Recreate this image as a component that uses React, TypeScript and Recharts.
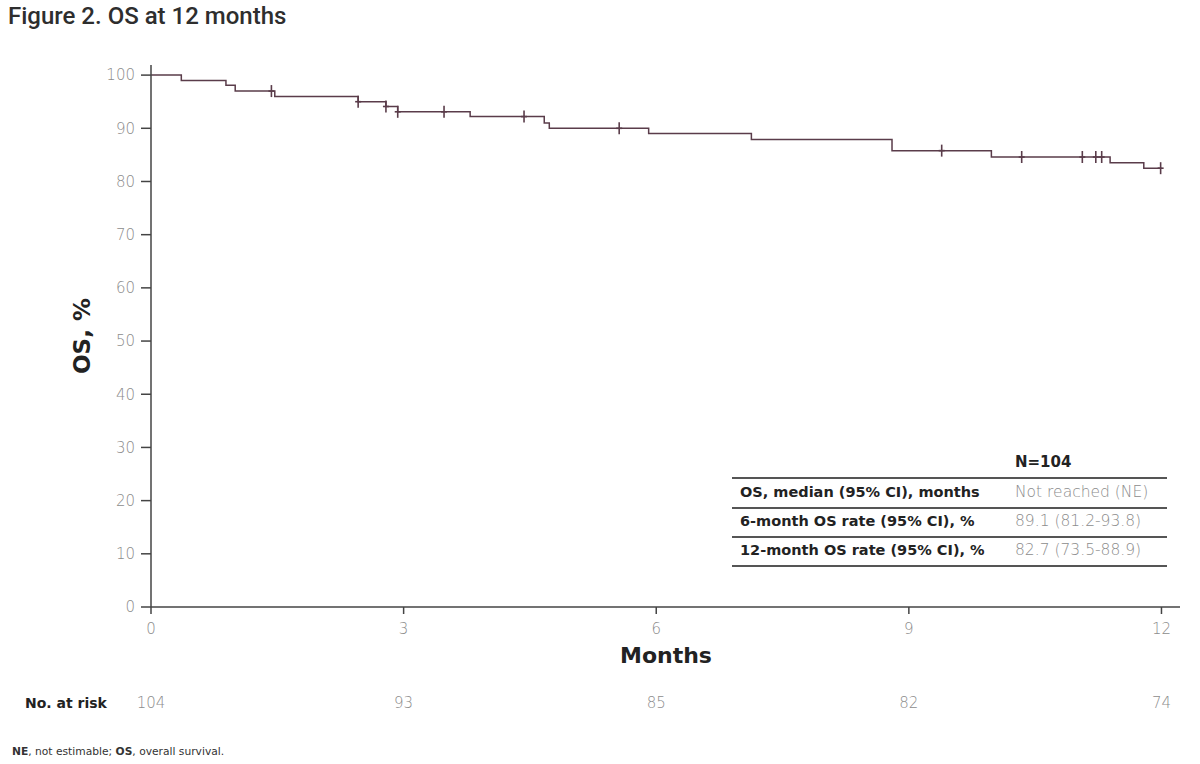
import React from 'react';
import { ComposedChart, Line, Scatter, XAxis, YAxis } from 'recharts';

// Kaplan-Meier steps (months, OS %)
const stepMonths = [0, 0.36, 0.89, 1.0, 1.47, 2.46, 2.79, 2.93, 3.79, 4.67, 4.73, 5.91, 7.13, 8.8, 9.98, 11.39, 11.79, 12.0];
const stepOs = [100, 99.0, 98.1, 97.0, 96.0, 95.0, 94.1, 93.1, 92.2, 91.0, 90.0, 89.0, 87.9, 85.8, 84.6, 83.5, 82.5, 82.5];

// censored patients
const censorMonths = [1.43, 2.46, 2.79, 2.93, 3.48, 4.43, 5.56, 9.39, 10.34, 11.06, 11.22, 11.29, 11.99];
const censorOs = [97.0, 95.0, 94.1, 93.1, 93.1, 92.2, 90.0, 85.8, 84.6, 84.6, 84.6, 84.6, 82.5];

const monthTicks = [0, 3, 6, 9, 12];
const osTicks = [0, 10, 20, 30, 40, 50, 60, 70, 80, 90, 100];
const atRisk = [104, 93, 85, 82, 74];

const tableRows = ['OS, median (95% CI), months', '6-month OS rate (95% CI), %', '12-month OS rate (95% CI), %'];
const tableValues = ['Not reached (NE)', '89.1 (81.2-93.8)', '82.7 (73.5-88.9)'];

const curve = stepMonths.map((t, i) => ({ t, os: stepOs[i] }));
const censored = censorMonths.map((t, i) => ({ t, os: censorOs[i] }));

const FONT = '"DejaVu Sans", Lato, sans-serif';
const LINE = '#5a3c4a';
const GREY = '#8c8c8c';

const CensorMark = (props: any) => {
    const { cx, cy } = props;
    return (
        <g>
            <line x1={cx} x2={cx} y1={cy - 6} y2={cy + 6} stroke={LINE} strokeWidth={1.6} />
            <line x1={cx - 3} x2={cx + 3} y1={cy} y2={cy} stroke={LINE} strokeWidth={1.6} />
        </g>
    );
};

const rule = (top: number, w = 2) => (
    <div style={{ position: 'absolute', left: 732, top, width: 435, height: w, background: '#555' }} />
);

export default function App() {
    return (
        <div style={{ position: 'absolute', left: 0, top: 0, width: 1200, height: 764, background: '#fff', overflow: 'hidden', fontFamily: FONT }}>
            <div style={{ position: 'absolute', left: 8, top: 2, fontFamily: 'Roboto, sans-serif', fontSize: 24, fontWeight: 500, color: '#2e2e2e' }}>
                Figure 2. OS at 12 months
            </div>

            <ComposedChart
                width={1200}
                height={764}
                data={curve}
                margin={{ top: 65, right: 20, bottom: 67, left: 0 }}
                style={{ position: 'absolute', left: 0, top: 0 }}
            >
                <XAxis
                    dataKey="t"
                    type="number"
                    domain={[0, 12.22]}
                    ticks={monthTicks}
                    allowDataOverflow
                    height={30}
                    stroke="#444"
                    strokeWidth={1.5}
                    tickSize={7}
                    tickMargin={9}
                    tick={{ fill: GREY, fontSize: 15, fontFamily: FONT, fontWeight: 300 }}
                />
                <XAxis
                    xAxisId="risk"
                    dataKey="t"
                    type="number"
                    domain={[0, 12.22]}
                    ticks={monthTicks}
                    allowDataOverflow
                    height={60}
                    axisLine={false}
                    tickLine={false}
                    tickSize={0}
                    tickMargin={60}
                    tickFormatter={(v: number) => String(atRisk[monthTicks.indexOf(v)])}
                    tick={{ fill: GREY, fontSize: 15, fontFamily: FONT, fontWeight: 300 }}
                />
                <YAxis
                    type="number"
                    domain={[0, 101.9]}
                    ticks={osTicks}
                    allowDataOverflow
                    width={151}
                    stroke="#444"
                    strokeWidth={1.5}
                    tickSize={10}
                    tickMargin={6}
                    tick={{ fill: GREY, fontSize: 15, fontFamily: FONT, fontWeight: 300 }}
                />
                <Line
                    dataKey="os"
                    type="stepAfter"
                    stroke={LINE}
                    strokeWidth={1.5}
                    dot={false}
                    isAnimationActive={false}
                />
                <Scatter
                    data={censored}
                    dataKey="os"
                    shape={CensorMark}
                    isAnimationActive={false}
                />
            </ComposedChart>

            <div style={{ position: 'absolute', left: 82, top: 336, transform: 'translate(-50%, -50%) rotate(-90deg)', fontSize: 23, fontWeight: 700, color: '#222', whiteSpace: 'nowrap' }}>
                OS, %
            </div>
            <div style={{ position: 'absolute', left: 666, top: 655, transform: 'translate(-50%, -50%)', fontSize: 22, fontWeight: 700, color: '#222' }}>
                Months
            </div>

            {/* summary table */}
            <div style={{ position: 'absolute', left: 1015, top: 453, fontSize: 15, fontWeight: 700, color: '#222' }}>N=104</div>
            {rule(477, 2)}
            {tableRows.map((r, i) => (
                <React.Fragment key={r}>
                    <div style={{ position: 'absolute', left: 740, top: 484 + i * 29, fontSize: 14.5, fontWeight: 700, color: '#222', whiteSpace: 'nowrap' }}>{r}</div>
                    <div style={{ position: 'absolute', left: 1015, top: 483 + i * 29, fontSize: 15.5, fontWeight: 300, color: GREY, whiteSpace: 'nowrap' }}>{tableValues[i]}</div>
                    {rule(507 + i * 29, i === 2 ? 2 : 1.5)}
                </React.Fragment>
            ))}

            <div style={{ position: 'absolute', left: 25, top: 695, fontSize: 14, fontWeight: 700, color: '#222' }}>No. at risk</div>

            <div style={{ position: 'absolute', left: 12, top: 745, fontSize: 10.7, color: '#333' }}>
                <b>NE</b>, not estimable; <b>OS</b>, overall survival.
            </div>
        </div>
    );
}
